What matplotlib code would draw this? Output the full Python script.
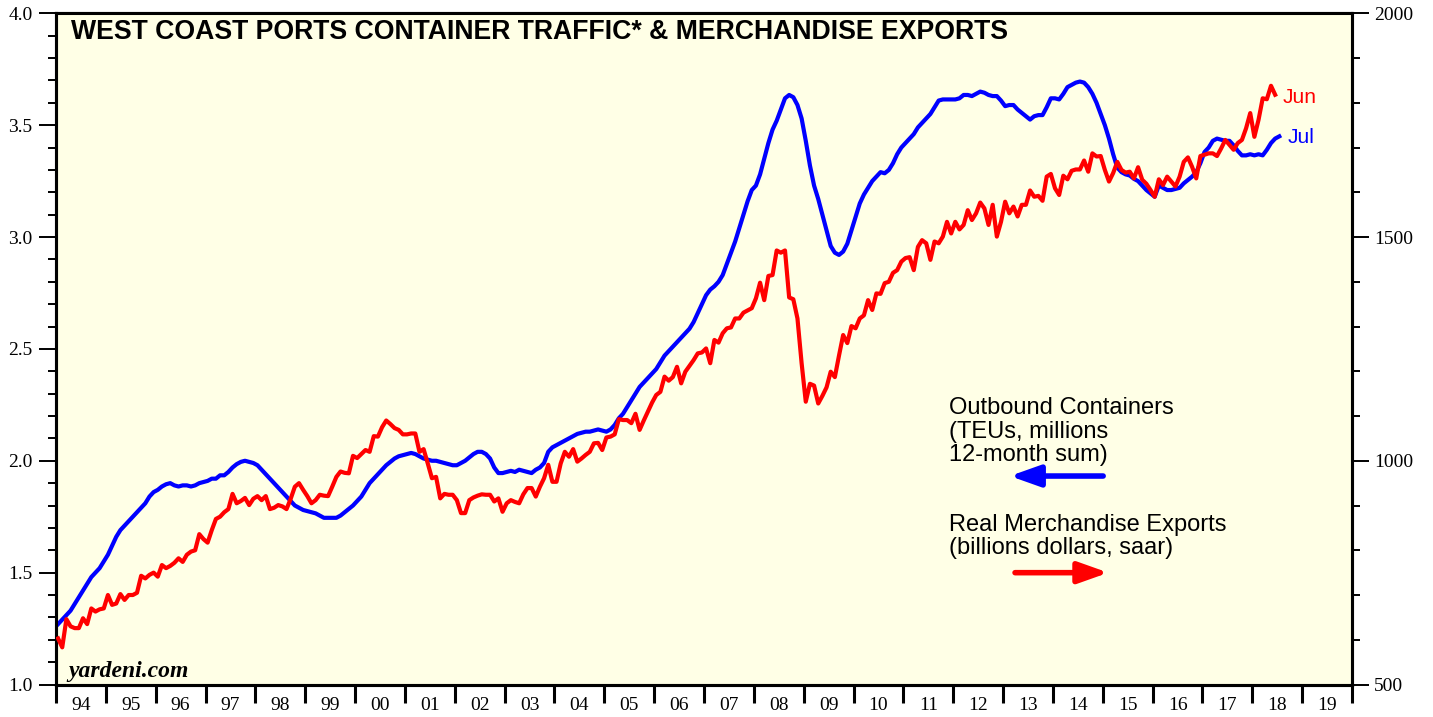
import numpy as np
import matplotlib
matplotlib.use('Agg')
import matplotlib.pyplot as plt
from matplotlib.ticker import MultipleLocator, FixedLocator, NullFormatter

# outbound containers, TEUs millions, 12-month sum (left axis), Jan 1994 - Jul 2018
containers = [
    1.27, 1.29, 1.31, 1.33, 1.36, 1.39, 1.42, 1.45, 1.48, 1.50, 1.52, 1.55,
    1.58, 1.62, 1.66, 1.69, 1.71, 1.73, 1.75, 1.77, 1.79, 1.81, 1.84, 1.86,
    1.87, 1.885, 1.895, 1.90, 1.89, 1.885, 1.89, 1.89, 1.885, 1.89, 1.90, 1.905,
    1.91, 1.92, 1.92, 1.935, 1.935, 1.95, 1.97, 1.985, 1.995, 2.00, 1.995, 1.99,
    1.98, 1.96, 1.94, 1.92, 1.90, 1.88, 1.86, 1.84, 1.82, 1.80, 1.79, 1.78,
    1.775, 1.77, 1.765, 1.755, 1.745, 1.745, 1.745, 1.745, 1.755, 1.77, 1.785, 1.80,
    1.82, 1.84, 1.87, 1.90, 1.92, 1.94, 1.96, 1.98, 1.995, 2.01, 2.02, 2.025,
    2.03, 2.035, 2.03, 2.02, 2.01, 2.005, 2.00, 2.00, 1.995, 1.99, 1.985, 1.98,
    1.98, 1.99, 2.00, 2.015, 2.03, 2.04, 2.04, 2.03, 2.01, 1.97, 1.945, 1.945,
    1.95, 1.955, 1.95, 1.96, 1.955, 1.95, 1.945, 1.96, 1.97, 1.99, 2.04, 2.06,
    2.07, 2.08, 2.09, 2.10, 2.11, 2.12, 2.125, 2.13, 2.13, 2.135, 2.14, 2.135,
    2.13, 2.14, 2.16, 2.19, 2.21, 2.24, 2.27, 2.30, 2.33, 2.35, 2.37, 2.39,
    2.41, 2.44, 2.47, 2.49, 2.51, 2.53, 2.55, 2.57, 2.59, 2.62, 2.66, 2.70,
    2.74, 2.765, 2.78, 2.80, 2.83, 2.88, 2.93, 2.98, 3.04, 3.10, 3.16, 3.21,
    3.23, 3.28, 3.35, 3.42, 3.48, 3.52, 3.57, 3.62, 3.635, 3.625, 3.59, 3.53,
    3.43, 3.32, 3.23, 3.17, 3.10, 3.03, 2.96, 2.93, 2.92, 2.935, 2.97, 3.03,
    3.09, 3.15, 3.19, 3.22, 3.25, 3.27, 3.29, 3.285, 3.30, 3.33, 3.37, 3.40,
    3.42, 3.44, 3.46, 3.49, 3.51, 3.53, 3.55, 3.58, 3.61, 3.615, 3.615, 3.615,
    3.615, 3.62, 3.635, 3.635, 3.63, 3.64, 3.65, 3.645, 3.635, 3.63, 3.63, 3.61,
    3.585, 3.59, 3.59, 3.57, 3.555, 3.54, 3.525, 3.54, 3.545, 3.545, 3.58, 3.62,
    3.62, 3.615, 3.64, 3.67, 3.68, 3.69, 3.695, 3.69, 3.67, 3.64, 3.60, 3.55,
    3.50, 3.44, 3.37, 3.31, 3.29, 3.28, 3.275, 3.26, 3.25, 3.23, 3.21, 3.195,
    3.18, 3.23, 3.22, 3.21, 3.21, 3.215, 3.22, 3.24, 3.255, 3.27, 3.29, 3.33,
    3.38, 3.40, 3.43, 3.44, 3.435, 3.43, 3.43, 3.41, 3.385, 3.365, 3.365, 3.37,
    3.365, 3.37, 3.365, 3.39, 3.42, 3.44, 3.45,
]

# real merchandise exports, billion dollars saar (right axis), Jan 1994 - Jun 2018
exports = [
    603, 583, 646, 630, 626, 626, 648, 635, 670, 663, 668, 670,
    700, 678, 681, 702, 689, 700, 700, 705, 743, 737, 745, 750,
    741, 767, 760, 765, 772, 782, 774, 790, 797, 800, 836, 825,
    817, 845, 870, 875, 885, 892, 926, 905, 910, 917, 901, 915,
    921, 912, 921, 892, 895, 901, 898, 892, 915, 942, 950, 935,
    921, 905, 912, 924, 922, 921, 942, 964, 976, 973, 972, 1011,
    1006, 1015, 1024, 1020, 1055, 1054, 1075, 1090, 1082, 1073, 1069, 1059,
    1059, 1061, 1061, 1020, 1026, 994, 961, 964, 916, 926, 924, 924,
    912, 883, 883, 912, 918, 922, 925, 924, 924, 909, 916, 886,
    905, 912, 908, 905, 925, 939, 939, 920, 942, 961, 991, 953,
    953, 994, 1020, 1009, 1026, 998, 1005, 1013, 1020, 1039, 1040, 1024,
    1052, 1054, 1059, 1093, 1091, 1091, 1084, 1105, 1069, 1090, 1110, 1130,
    1147, 1154, 1188, 1179, 1187, 1210, 1173, 1199, 1212, 1225, 1240, 1242,
    1251, 1218, 1270, 1264, 1285, 1296, 1298, 1318, 1318, 1331, 1336, 1341,
    1363, 1398, 1359, 1413, 1415, 1470, 1465, 1470, 1365, 1361, 1318, 1218,
    1132, 1172, 1168, 1128, 1145, 1164, 1199, 1187, 1235, 1281, 1263, 1301,
    1296, 1318, 1325, 1359, 1337, 1374, 1373, 1397, 1400, 1420, 1426, 1445,
    1453, 1455, 1426, 1478, 1493, 1486, 1449, 1490, 1486, 1501, 1534, 1508,
    1534, 1517, 1527, 1560, 1538, 1553, 1577, 1564, 1527, 1572, 1501, 1534,
    1579, 1553, 1568, 1546, 1572, 1572, 1604, 1590, 1592, 1581, 1635, 1641,
    1609, 1594, 1637, 1629, 1648, 1651, 1651, 1671, 1646, 1687, 1680, 1681,
    1650, 1624, 1643, 1668, 1650, 1644, 1646, 1631, 1656, 1628, 1619, 1605,
    1590, 1629, 1616, 1635, 1624, 1613, 1635, 1668, 1678, 1657, 1631, 1681,
    1684, 1687, 1687, 1681, 1698, 1717, 1706, 1695, 1710, 1717, 1743, 1777,
    1724, 1762, 1810, 1808, 1838, 1818,
]

years = list(range(1994, 2021))
year_labels = ['94', '95', '96', '97', '98', '99', '00', '01', '02', '03', '04', '05', '06',
               '07', '08', '09', '10', '11', '12', '13', '14', '15', '16', '17', '18', '19']

t_cont = 1994 + (np.arange(len(containers)) + 0.5) / 12
t_exp = 1994 + (np.arange(len(exports)) + 0.5) / 12

BG = '#ffffe6'
SERIF = 'Liberation Serif'
SANS = 'Liberation Sans'

fig = plt.figure(figsize=(14.33, 7.17), dpi=100)
ax = fig.add_axes([56 / 1433, 32.5 / 717, 1296 / 1433, 671.2 / 717])
ax.set_facecolor(BG)
ax2 = ax.twinx()

ax.plot(t_cont, containers, color='#0000ff', lw=3.0, solid_joinstyle='round', zorder=3)
ax2.plot(t_exp, exports, color='#ff0000', lw=3.0, solid_joinstyle='round', zorder=3)

ax.set_xlim(1994, 2020)
ax.set_ylim(1.0, 4.0)
ax2.set_ylim(500, 2000)

# x axis: long ticks at year boundaries, labels centered within years
ax.xaxis.set_major_locator(FixedLocator(years))
ax.xaxis.set_major_formatter(NullFormatter())
ax.xaxis.set_minor_locator(FixedLocator([y + 0.5 for y in years[:-1]]))
ax.set_xticklabels(year_labels, minor=True)
ax.tick_params(axis='x', which='major', direction='out', length=13, width=2.2, color='black')
ax.tick_params(axis='x', which='minor', length=0, pad=9, labelsize=14)

ax.yaxis.set_major_locator(MultipleLocator(0.5))
ax.yaxis.set_minor_locator(MultipleLocator(0.1))
ax.yaxis.set_major_formatter(lambda v, p: f'{v:.1f}')
ax.tick_params(axis='y', which='major', direction='out', length=12, width=1.4, pad=5, labelsize=14)
ax.tick_params(axis='y', which='minor', direction='out', length=6, width=1.4)

ax2.yaxis.set_major_locator(MultipleLocator(500))
ax2.yaxis.set_minor_locator(MultipleLocator(100))
ax2.tick_params(axis='y', which='major', direction='out', length=12, width=1.4, pad=4, labelsize=14)
ax2.tick_params(axis='y', which='minor', direction='out', length=6, width=1.4)

for a in (ax, ax2):
    for lab in a.get_xticklabels(minor=True) + a.get_yticklabels():
        lab.set_fontfamily(SERIF)
    for sp in a.spines.values():
        sp.set_linewidth(2.2)
        sp.set_color('black')
ax2.spines['top'].set_linewidth(1.5)

ax.text(0.0115, 0.9725, 'WEST COAST PORTS CONTAINER TRAFFIC* & MERCHANDISE EXPORTS',
        transform=ax.transAxes, fontsize=19.2, fontweight='bold', family=SANS,
        ha='left', va='center', zorder=5)

ax.text(0.689, 0.428, 'Outbound Containers\n(TEUs, millions\n12-month sum)',
        transform=ax.transAxes, fontsize=17, family=SANS, ha='left', va='top',
        linespacing=1.08, zorder=5)
ax.text(0.689, 0.254, 'Real Merchandise Exports\n(billions dollars, saar)',
        transform=ax.transAxes, fontsize=17, family=SANS, ha='left', va='top',
        linespacing=1.08, zorder=5)

ax.annotate('', xy=(0.736, 0.3106), xytext=(0.808, 0.3106), xycoords='axes fraction',
            arrowprops=dict(arrowstyle='-|>,head_length=0.9,head_width=0.32', lw=4,
                            color='#0000ff', mutation_scale=20, shrinkA=0, shrinkB=0))
ax.annotate('', xy=(0.812, 0.1666), xytext=(0.740, 0.1666), xycoords='axes fraction',
            arrowprops=dict(arrowstyle='-|>,head_length=0.9,head_width=0.32', lw=4,
                            color='#ff0000', mutation_scale=20, shrinkA=0, shrinkB=0))

ax.text(0.9468, 0.8745, 'Jun', transform=ax.transAxes, color='#ff0000', fontsize=15,
        family=SANS, ha='left', va='center', zorder=5)
ax.text(0.9504, 0.8152, 'Jul', transform=ax.transAxes, color='#0000ff', fontsize=15,
        family=SANS, ha='left', va='center', zorder=5)

ax.text(0.0093, 0.011, 'yardeni.com', transform=ax.transAxes, fontsize=17,
        family=SERIF, fontweight='bold', fontstyle='italic', ha='left', va='baseline', zorder=5)

fig.savefig('out.png', dpi=100, facecolor='white')
